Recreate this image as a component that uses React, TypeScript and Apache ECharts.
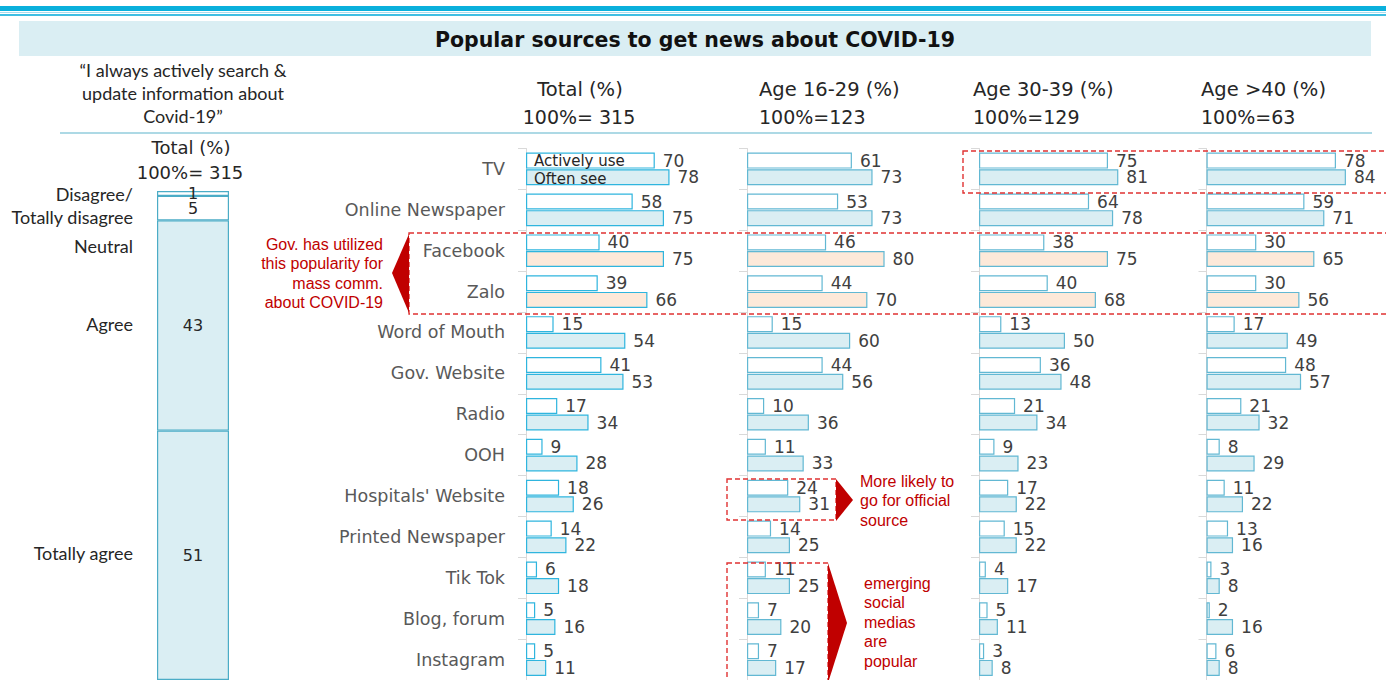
import React, { useEffect, useRef } from "react";
import * as echarts from "echarts";

// ---------- data ----------
const categories = [
  "TV",
  "Online Newspaper",
  "Facebook",
  "Zalo",
  "Word of Mouth",
  "Gov. Website",
  "Radio",
  "OOH",
  "Hospitals' Website",
  "Printed Newspaper",
  "Tik Tok",
  "Blog, forum",
  "Instagram",
];
const totalActive = [70, 58, 40, 39, 15, 41, 17, 9, 18, 14, 6, 5, 5];
const totalOften = [78, 75, 75, 66, 54, 53, 34, 28, 26, 22, 18, 16, 11];
const age1629Active = [61, 53, 46, 44, 15, 44, 10, 11, 24, 14, 11, 7, 7];
const age1629Often = [73, 73, 80, 70, 60, 56, 36, 33, 31, 25, 25, 20, 17];
const age3039Active = [75, 64, 38, 40, 13, 36, 21, 9, 17, 15, 4, 5, 3];
const age3039Often = [81, 78, 75, 68, 50, 48, 34, 23, 22, 22, 17, 11, 8];
const age40Active = [78, 59, 30, 30, 17, 48, 21, 8, 11, 13, 3, 2, 6];
const age40Often = [84, 71, 65, 56, 49, 57, 32, 29, 22, 16, 8, 16, 8];
const highlighted = ["Facebook", "Zalo"];
const seriesNames = ["Actively use", "Often see"];
const panelTitles = ["Total (%)", "Age 16-29 (%)", "Age 30-39 (%)", "Age >40 (%)"];
const panelBases = ["100%= 315", "100%=123", "100%=129", "100%=63"];
const attitudeNames = ["Disagree/Totally disagree", "Neutral", "Agree", "Totally agree"];
const attitudeValues = [1, 5, 43, 51];

// ---------- layout / style ----------
const FONT = "DejaVu Sans";
const CAL = "Lato";
const ARIAL = "Liberation Sans";
const RED = "#c00000";
const BLUE_FILL = "#daeef3";
const PEACH = "#fde9d9";
const panelData = [
  { active: totalActive, often: totalOften, left: 526, width: 184, stroke: "#2fb5de" },
  { active: age1629Active, often: age1629Often, left: 747, width: 172, stroke: "#62b8d3" },
  { active: age3039Active, often: age3039Often, left: 979, width: 172, stroke: "#62b8d3" },
  { active: age40Active, often: age40Often, left: 1206.5, width: 166, stroke: "#62b8d3" },
];
const GRID_TOP = 148.5;
const GRID_H = 533;

function txt(text: string, x: number, y: number, o: any = {}) {
  const align = o.align || "left";
  const v = o.v || "middle";
  return {
    type: "text",
    x,
    y,
    z: 100,
    silent: true,
    style: {
      text,
      fill: o.fill || "#262626",
      fontSize: o.size || 17,
      fontFamily: o.family || FONT,
      fontWeight: o.weight || "normal",
      align,
      verticalAlign: v,
      textAlign: align,
      textVerticalAlign: v,
    },
  };
}

function dashedRect(x: number, y: number, w: number, h: number) {
  return {
    type: "rect",
    silent: true,
    z: 50,
    shape: { x, y, width: w, height: h },
    style: { fill: "none", stroke: "#e03232", lineWidth: 1.4, lineDash: [5, 3] },
  };
}

function tri(points: number[][]) {
  return { type: "polygon", silent: true, z: 50, shape: { points }, style: { fill: RED } };
}

export default function App() {
  const ref = useRef<HTMLDivElement>(null);
  useEffect(() => {
    if (!ref.current) return;
    const chart = echarts.init(ref.current, undefined, { renderer: "svg" });

    const grid: any[] = [];
    const xAxis: any[] = [];
    const yAxis: any[] = [];
    const series: any[] = [];

    panelData.forEach((p, i) => {
      grid.push({ left: p.left, top: GRID_TOP, width: p.width, height: GRID_H });
      xAxis.push({ gridIndex: i, type: "value", min: 0, max: 100, show: false });
      yAxis.push({
        gridIndex: i,
        type: "category",
        data: categories,
        inverse: true,
        axisLine: { show: true, lineStyle: { color: "#d9d9d9", width: 1 } },
        axisTick: { show: true, length: 8, lineStyle: { color: "#d9d9d9" } },
        axisLabel: {
          show: i === 0,
          margin: 21,
          fontSize: 17.5,
          color: "#595959",
          fontFamily: FONT,
        },
        splitLine: { show: false },
      });
      const lbl = {
        show: true,
        position: "right",
        distance: 8,
        fontSize: 17,
        color: "#404040",
        fontFamily: FONT,
      };
      series.push({
        type: "bar",
        name: seriesNames[0],
        xAxisIndex: i,
        yAxisIndex: i,
        data: p.active,
        barWidth: 16,
        barGap: "4%",
        itemStyle: { color: "#ffffff", borderColor: p.stroke, borderWidth: 1.2 },
        label: lbl,
      });
      series.push({
        type: "bar",
        name: seriesNames[1],
        xAxisIndex: i,
        yAxisIndex: i,
        data: p.often.map((v, k) => ({
          value: v,
          itemStyle: {
            color: highlighted.includes(categories[k]) ? PEACH : BLUE_FILL,
          },
        })),
        barWidth: 16,
        barGap: "4%",
        itemStyle: { color: BLUE_FILL, borderColor: p.stroke, borderWidth: 1.2 },
        label: lbl,
      });
    });

    // stacked attitude bar
    const gi = panelData.length;
    grid.push({ left: 157, top: 191, width: 72, height: 495 });
    xAxis.push({ gridIndex: gi, type: "category", data: ["Total"], show: false });
    yAxis.push({ gridIndex: gi, type: "value", min: 0, max: 100, inverse: true, show: false });
    attitudeValues.forEach((v, k) => {
      series.push({
        type: "bar",
        name: attitudeNames[k],
        xAxisIndex: gi,
        yAxisIndex: gi,
        stack: "att",
        data: [v],
        barWidth: 72,
        itemStyle: {
          color: k < 2 ? "#ffffff" : BLUE_FILL,
          borderColor: "#4bacc6",
          borderWidth: 1.2,
        },
        label: {
          show: true,
          position: "inside",
          fontSize: 16,
          color: "#262626",
          fontFamily: FONT,
        },
      });
    });

    const red = { family: ARIAL, size: 16, fill: RED };
    const graphic: any[] = [
      // top stripes
      { type: "rect", silent: true, shape: { x: 0, y: 6, width: 1386, height: 5 }, style: { fill: "#0ab0dc" } },
      { type: "rect", silent: true, shape: { x: 0, y: 12, width: 1386, height: 1 }, style: { fill: "#a8dcee" } },
      { type: "rect", silent: true, shape: { x: 0, y: 14, width: 1386, height: 2 }, style: { fill: "#3fbfe3" } },
      // title band
      { type: "rect", silent: true, shape: { x: 19, y: 21, width: 1352, height: 35 }, style: { fill: "#daeef3" } },
      txt("Popular sources to get news about COVID-19", 695, 40, { align: "center", size: 20.5, weight: "bold", fill: "#111111" }),
      // left header
      txt("\u201cI always actively search &", 183, 70, { align: "center", family: CAL, size: 18 }),
      txt("update information about", 183, 93, { align: "center", family: CAL, size: 18 }),
      txt("Covid-19\u201d", 183, 116, { align: "center", family: CAL, size: 18 }),
      // separator
      { type: "line", silent: true, shape: { x1: 60, y1: 133, x2: 1372, y2: 133 }, style: { stroke: "#92cddd", lineWidth: 1.5 } },
      // panel headers
      txt(panelTitles[0], 580, 89, { align: "center", size: 19.5 }),
      txt(panelBases[0], 579, 117, { align: "center", size: 19 }),
      txt(panelTitles[1], 759, 89, { size: 19.5 }),
      txt(panelBases[1], 759, 117, { size: 19 }),
      txt(panelTitles[2], 973, 89, { size: 19.5 }),
      txt(panelBases[2], 973, 117, { size: 19 }),
      txt(panelTitles[3], 1201, 89, { size: 19.5 }),
      txt(panelBases[3], 1201, 117, { size: 19 }),
      // stacked bar header
      txt("Total (%)", 191, 147, { align: "center", size: 18 }),
      txt("100%= 315", 190, 172, { align: "center", size: 18 }),
      // attitude labels
      txt("Disagree/", 133, 194, { align: "right", family: CAL, size: 18 }),
      txt("Totally disagree", 133, 217, { align: "right", family: CAL, size: 18 }),
      txt("Neutral", 133, 246, { align: "right", family: CAL, size: 18 }),
      txt("Agree", 133, 324, { align: "right", family: CAL, size: 18 }),
      txt("Totally agree", 133, 553, { align: "right", family: CAL, size: 18 }),
      // legend inside TV bars
      txt(seriesNames[0], 534, 161, { size: 15 }),
      txt(seriesNames[1], 534, 179, { size: 15 }),
      // dashed boxes
      dashedRect(963, 151, 440, 42),
      dashedRect(409, 233, 1000, 81),
      dashedRect(727, 479, 109, 41),
      dashedRect(727, 563, 101, 200),
      // arrows
      tri([[409, 234], [409, 313], [392, 273]]),
      tri([[836, 479], [836, 521], [853, 500]]),
      tri([[828, 563], [828, 683], [847, 623]]),
      // red annotations
      txt("Gov. has utilized", 383, 244, { align: "right", ...red }),
      txt("this popularity for", 383, 263, { align: "right", ...red }),
      txt("mass comm.", 383, 283, { align: "right", ...red }),
      txt("about COVID-19", 383, 302, { align: "right", ...red }),
      txt("More likely to", 860, 481, red),
      txt("go for official", 860, 500, red),
      txt("source", 860, 520, red),
      txt("emerging", 864, 583, red),
      txt("social", 864, 602, red),
      txt("medias", 864, 622, red),
      txt("are", 864, 641, red),
      txt("popular", 864, 661, red),
    ];

    chart.setOption({
      animation: false,
      backgroundColor: "#ffffff",
      textStyle: { fontFamily: FONT },
      grid,
      xAxis,
      yAxis,
      series,
      graphic,
    });
    return () => chart.dispose();
  }, []);
  return (
    <div
      ref={ref}
      style={{ position: "fixed", left: 0, top: 0, width: 1386, height: 680 }}
    />
  );
}
